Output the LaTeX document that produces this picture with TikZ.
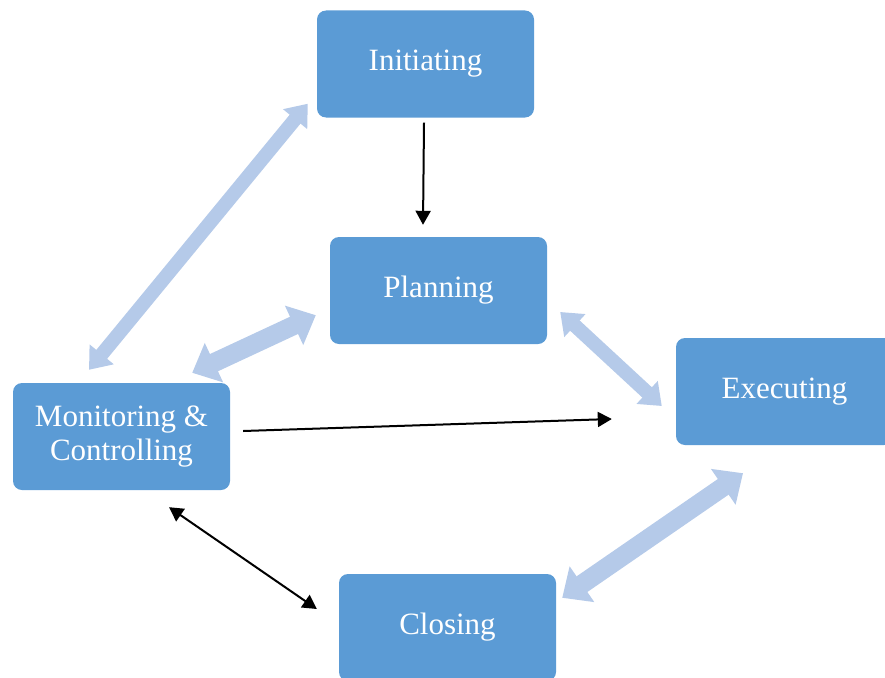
\documentclass[tikz,border=0pt]{standalone}
\usepackage{fontspec}
\setmainfont{Liberation Serif}
\usetikzlibrary{arrows.meta}
\definecolor{boxblue}{RGB}{91,155,213}
\definecolor{paleblue}{RGB}{181,202,233}

\begin{document}
\begin{tikzpicture}[x=1pt, y=-1pt]
            \tikzset{phase/.style={fill=boxblue, rounded corners=9pt, minimum width=217pt, minimum height=107pt, inner sep=0pt, text=white, align=center, font=\fontsize{31}{34}\selectfont}}
            \tikzset{link/.style={paleblue, line width=14pt, <->, >={Triangle[width=30pt, length=20pt]}}}
            \tikzset{widelink/.style={paleblue, line width=19pt, <->, >={Triangle[width=42pt, length=24pt]}}}
            \tikzset{flow/.style={black, line width=2pt, ->, >={Triangle[width=15pt, length=14pt]}}}
            \useasboundingbox (0, 0) rectangle (885, 677);
            \node[phase] (init) at (425.5, 64) {Initiating};
            \node[phase] (plan) at (438.5, 290.5) {Planning};
            \node[phase] (exec) at (784.5, 391.5) {Executing};
            \node[phase] (mon) at (121.5, 436.5) {Monitoring \&\\Controlling};
            \node[phase] (clos) at (447.5, 627.5) {Closing};
            \draw[link] ([shift={(-32.5, -13)}]mon.north) -- ([shift={(-9, -14)}]init.south west);
            \draw[widelink] ([shift={(-38, -10)}]mon.north east) -- ([shift={(-14, -29)}]plan.south west);
            \draw[link] ([shift={(13, 21.5)}]plan.east) -- ([shift={(-14, 14.5)}]exec.west);
            \draw[widelink] ([shift={(6, 24)}]clos.north east) -- ([shift={(-41.5, 28)}]exec.south);
            \draw[flow] ([shift={(-1.5, 5)}]init.south) -- ([shift={(-15.5, -12)}]plan.north);
            \draw[flow] ([shift={(13, -5.5)}]mon.east) -- ([shift={(-64, 27.5)}]exec.west);
            \draw[flow, <->] ([shift={(47.5, 17)}]mon.south) -- ([shift={(-22, -18.5)}]clos.west);
        \end{tikzpicture}
\end{document}
